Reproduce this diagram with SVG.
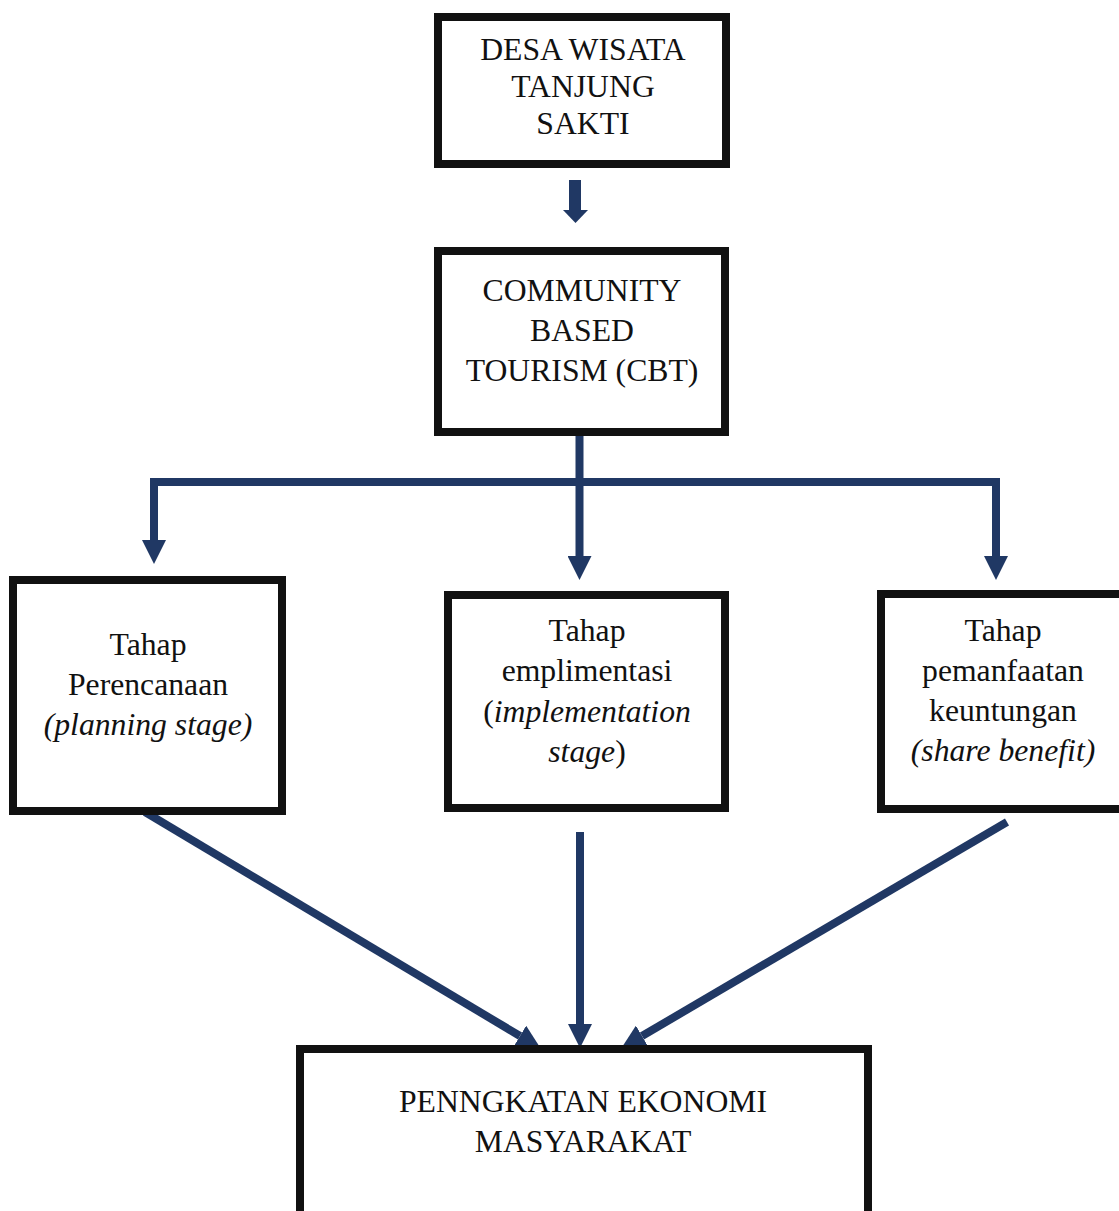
<svg xmlns="http://www.w3.org/2000/svg" width="1119" height="1211" viewBox="0 0 1119 1211">
<style>
.box{fill:#fff;stroke:#111;stroke-width:8}
.t{font-family:"Liberation Serif","Times New Roman",serif;font-size:31.7px;fill:#111;text-anchor:middle}
.i{font-style:italic}
.c{stroke:#203864;stroke-width:8;fill:none}
.h{fill:#203864}
</style>
<defs>
<marker id="ah" viewBox="0 0 24 24" markerUnits="userSpaceOnUse" markerWidth="24" markerHeight="24" refX="0" refY="12" orient="auto">
<path d="M0,0 L24,12 L0,24 z" fill="#203864"/>
</marker>
</defs>
<rect width="1119" height="1211" fill="#fff"/>

<g id="connectors">
<rect class="h" x="569" y="180" width="12" height="31"/>
<polygon class="h" points="563,210 588,210 575.5,223"/>
<path class="c" d="M579.5,436 V556" marker-end="url(#ah)"/>
<path class="c" d="M150,482 H1000"/>
<path class="c" d="M154,478 V540" marker-end="url(#ah)"/>
<path class="c" d="M996,478 V556" marker-end="url(#ah)"/>
<path class="c" d="M145,812 L520,1036" marker-end="url(#ah)"/>
<path class="c" d="M580,832 V1024" marker-end="url(#ah)"/>
<path class="c" d="M1007,822 L642,1036" marker-end="url(#ah)"/>
</g>

<g id="node-desa">
<rect class="box" x="438" y="17" width="288" height="147"/>
<text class="t" x="583" y="60">DESA WISATA</text>
<text class="t" x="583" y="97">TANJUNG</text>
<text class="t" x="583" y="134">SAKTI</text>
</g>

<g id="node-cbt">
<rect class="box" x="438" y="251" width="287" height="181"/>
<text class="t" x="582" y="301">COMMUNITY</text>
<text class="t" x="582" y="341">BASED</text>
<text class="t" x="582" y="381">TOURISM (CBT)</text>
</g>

<g id="node-perencanaan">
<rect class="box" x="13" y="580" width="269" height="231"/>
<text class="t" x="148" y="655">Tahap</text>
<text class="t" x="148" y="695">Perencanaan</text>
<text class="t i" x="148" y="735">(planning stage)</text>
</g>

<g id="node-implementasi">
<rect class="box" x="448" y="595" width="277" height="213"/>
<text class="t" x="587" y="641">Tahap</text>
<text class="t" x="587" y="681">emplimentasi</text>
<text class="t" x="587" y="722">(<tspan class="i">implementation</tspan></text>
<text class="t" x="587" y="762"><tspan class="i">stage</tspan>)</text>
</g>

<g id="node-pemanfaatan">
<rect class="box" x="881" y="594" width="250" height="215"/>
<text class="t" x="1003" y="641">Tahap</text>
<text class="t" x="1003" y="681">pemanfaatan</text>
<text class="t" x="1003" y="721">keuntungan</text>
<text class="t i" x="1003" y="761">(share benefit)</text>
</g>

<g id="node-ekonomi">
<rect class="box" x="300" y="1049" width="568" height="200"/>
<text class="t" x="583" y="1112">PENNGKATAN EKONOMI</text>
<text class="t" x="583" y="1152">MASYARAKAT</text>
</g>
</svg>
